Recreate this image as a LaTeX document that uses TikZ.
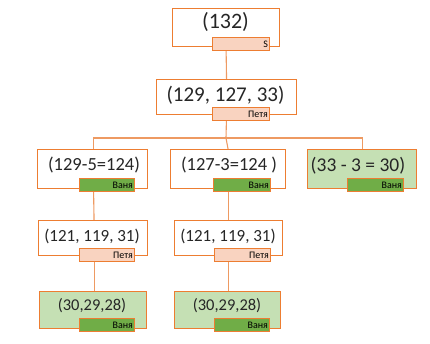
\documentclass[tikz,border=0pt]{standalone}
\usepackage{fontspec}
\setmainfont{Carlito}
\usetikzlibrary{backgrounds}
\definecolor{ora}{HTML}{ED7D31}
\definecolor{conn}{HTML}{EE9A62}
\definecolor{pinkf}{HTML}{F9D3C0}
\definecolor{greenf}{HTML}{C5E0B4}
\definecolor{greentag}{HTML}{70AD47}
\tikzset{
  box/.style={draw=ora, line width=1.1pt, fill=white, inner sep=0pt, anchor=north west},
  gbox/.style={box, fill=greenf},
  tagp/.style={draw=ora, line width=1.1pt, fill=pinkf, inner sep=0pt, anchor=north west},
  tagg/.style={tagp, fill=greentag},
  txt/.style={inner sep=0pt, text=black!85},
  wire/.style={draw=conn, line width=1.1pt},
}
\newcommand{\bx}[6]{% name, style, x1,y1,x2,y2
  \node[#2, minimum width=#5-#3, minimum height=#6-#4] (#1) at (#3,#4) {};}
\newcommand{\tg}[7]{% name, style, x1,y1,x2,y2, text
  \node[#2, minimum width=#5-#3, minimum height=#6-#4] (#1) at (#3,#4) {};
  \node[inner sep=0pt, anchor=east, font=\fontsize{10}{11}\selectfont] (#1t) at ([xshift=-2pt,yshift=-0.5pt]#1.east) {#7};}
\begin{document}
\begin{tikzpicture}[x=1pt, y=-1pt]
\useasboundingbox (0,0) rectangle (430,344);
% boxes
\bx{b1}{box}{172}{8}{279}{46}
\bx{b2}{box}{156}{79}{296}{114}
\bx{b3a}{box}{37}{149}{147}{188}
\bx{b3b}{box}{170}{149}{285}{188}
\bx{b3c}{gbox}{307}{149}{416}{188}
\bx{b4a}{box}{38}{220}{147}{255}
\bx{b4b}{box}{174}{220}{282}{255}
\bx{b5a}{gbox}{39}{291}{146}{328}
\bx{b5b}{gbox}{174}{291}{280}{328}
% texts
\node[txt, font=\fontsize{22}{26}\selectfont] (t1) at (225.5,22) {(132)};
\node[txt, font=\fontsize{21}{24}\selectfont] (t2) at (225.5,95) {(129, 127, 33)};
\node[txt, font=\fontsize{18.5}{22}\selectfont] (t3a) at (94,165) {(129-5=124)};
\node[txt, font=\fontsize{18.5}{22}\selectfont] (t3b) at (229,165) {(127-3=124 )};
\node[txt, font=\fontsize{19.5}{22}\selectfont] (t3c) at (358,166) {(33 - 3 = 30)};
\node[txt, font=\fontsize{17}{20}\selectfont] (t4a) at (92,236) {(121, 119, 31)};
\node[txt, font=\fontsize{17}{20}\selectfont] (t4b) at (228,236) {(121, 119, 31)};
\node[txt, font=\fontsize{16.5}{20}\selectfont] (t5a) at (92,306) {(30,29,28)};
\node[txt, font=\fontsize{16.5}{20}\selectfont] (t5b) at (227,306) {(30,29,28)};
% tags
\tg{g1}{tagp}{212}{37}{269}{50}{S}
\tg{g2}{tagp}{212}{107}{269}{120}{Петя}
\tg{g3a}{tagg}{79}{178}{134}{191}{Ваня}
\tg{g3b}{tagg}{213}{178}{270}{191}{Ваня}
\tg{g3c}{tagg}{347}{178}{403}{191}{Ваня}
\tg{g4a}{tagp}{79}{248}{134}{261}{Петя}
\tg{g4b}{tagp}{214}{248}{270}{261}{Петя}
\tg{g5a}{tagg}{79}{318}{134}{331}{Ваня}
\tg{g5b}{tagg}{214}{318}{269}{331}{Ваня}
% connectors
\coordinate (br) at (226,138);
\begin{scope}[on background layer]
\draw[wire] (b1.south) -- (b2.north);
\draw[wire] (b2.south) -- (br);
\draw[wire] ([xshift=1pt]b3a.north) |- (br) -| ([xshift=0.5pt]b3c.north);
\draw[wire] (br) -- (b3b.north);
\draw[wire] ([xshift=1pt]b3a.south) -- ([xshift=1pt]b4a.north);
\draw[wire] (b3b.south) -- (b3b.south |- b4b.north);
\draw[wire] ([xshift=1pt]b4a.south) -- ([xshift=1pt]b5a.north -| b4a.south);
\draw[wire] (b4b.south) -- (b4b.south |- b5b.north);
\end{scope}
\end{tikzpicture}
\end{document}
